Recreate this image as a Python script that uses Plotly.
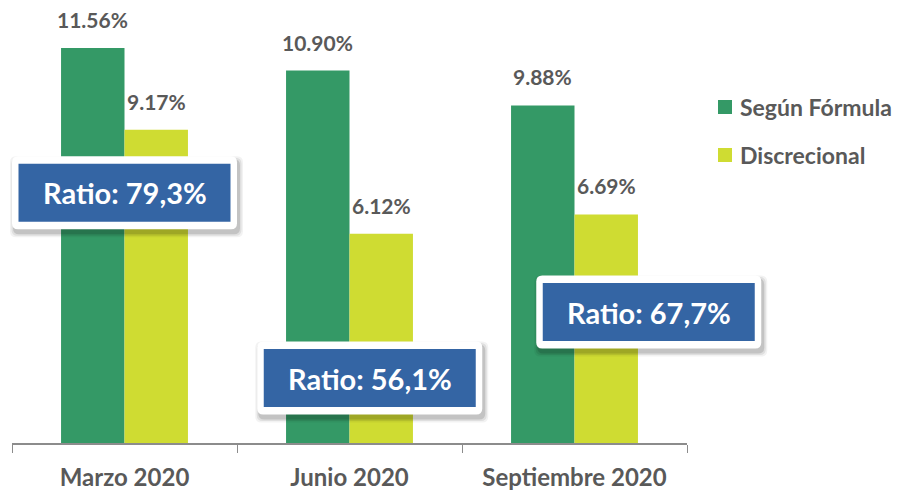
import plotly.graph_objects as go

categories = ["Marzo 2020", "Junio 2020", "Septiembre 2020"]
formula = [11.56, 10.90, 9.88]
discrecional = [9.17, 6.12, 6.69]
series_names = ["Según Fórmula", "Discrecional"]
ratio_labels = ["Ratio: 79,3%", "Ratio: 56,1%", "Ratio: 67,7%"]
# ratio box anchor positions (category index, value)
ratio_x = [0.0, 1.09, 2.33]
ratio_y = [7.32, 1.90, 3.83]

GREEN = "#349966"
YELLOW = "#CFDC32"
BLUE = "#3465A4"
GREY = "#595959"
FONT = "Lato"
YMAX = 12.73

fig = go.Figure()
fig.add_trace(go.Bar(name=series_names[0], x=categories, y=formula,
                     marker=dict(color=GREEN, line=dict(width=0)), showlegend=False))
fig.add_trace(go.Bar(name=series_names[1], x=categories, y=discrecional,
                     marker=dict(color=YELLOW, line=dict(width=0)), showlegend=False))

bw = 0.282
for i, v in enumerate(formula):
    fig.add_annotation(x=i - bw / 2, y=v, text=f"{v:.2f}%", showarrow=False,
                       yanchor="bottom", yshift=14,
                       font=dict(family=FONT, size=21, color=GREY, weight="bold"))
for i, v in enumerate(discrecional):
    fig.add_annotation(x=i + bw / 2, y=v, text=f"{v:.2f}%", showarrow=False,
                       yanchor="bottom", yshift=14,
                       font=dict(family=FONT, size=21, color=GREY, weight="bold"))

shapes = []
def rounded(w, h, r, dx=0, dy=0):
    x0, x1 = -w / 2 + dx, w / 2 + dx
    y0, y1 = -h / 2 + dy, h / 2 + dy
    return (f"M {x0+r},{y0} L {x1-r},{y0} Q {x1},{y0} {x1},{y0+r} "
            f"L {x1},{y1-r} Q {x1},{y1} {x1-r},{y1} L {x0+r},{y1} "
            f"Q {x0},{y1} {x0},{y1-r} L {x0},{y0+r} Q {x0},{y0} {x0+r},{y0} Z")

for xc, yc, lab in zip(ratio_x, ratio_y, ratio_labels):
    px = (xc + 0.5) / len(categories)
    py = yc / YMAX
    common = dict(xref="paper", yref="paper", xsizemode="pixel", ysizemode="pixel",
                  xanchor=px, yanchor=py, layer="above")
    for k, op in [(8, 0.05), (5, 0.08), (2, 0.12)]:
        shapes.append(dict(type="path", path=rounded(225 + k, 73 + k, 6, 2, -4),
                           fillcolor=f"rgba(0,0,0,{op})", line=dict(width=0), **common))
    shapes.append(dict(type="path", path=rounded(225, 73, 6),
                       fillcolor="white", line=dict(width=0), **common))
    shapes.append(dict(type="rect", x0=-106, x1=106, y0=-29, y1=29,
                       fillcolor=BLUE, line=dict(width=0), **common))
    fig.add_annotation(xref="paper", yref="paper", x=px, y=py, text=lab, showarrow=False,
                       xanchor="center", yanchor="middle",
                       font=dict(family=FONT, size=29, color="white", weight="bold"))

# manual legend (paper coordinates)
leg_y = [0.7724, 0.6621]
for name, col, ly in zip(series_names, [GREEN, YELLOW], leg_y):
    shapes.append(dict(type="rect", xref="paper", yref="paper",
                       x0=1.0459, x1=1.0667, y0=ly - 0.0161, y1=ly + 0.0161,
                       fillcolor=col, line=dict(width=0)))
    fig.add_annotation(xref="paper", yref="paper", x=1.0756, y=ly, text=name,
                       showarrow=False, xanchor="left", yanchor="middle",
                       font=dict(family=FONT, size=23, color=GREY, weight="bold"))

fig.update_layout(
    shapes=shapes,
    width=895, height=483,
    margin=dict(l=4, r=216, t=0, b=48),
    paper_bgcolor="white", plot_bgcolor="white",
    barmode="group", bargap=0.436, bargroupgap=0,
    showlegend=False,
    xaxis=dict(type="category", range=[-0.5, 2.5], autorange=False,
               tickson="boundaries", ticks="outside", ticklen=8,
               tickcolor="#8c8c8c", showline=True, linecolor="#8c8c8c", linewidth=1.5,
               tickfont=dict(family=FONT, size=24, color=GREY, weight="bold"),
               ticklabelstandoff=12,
               showgrid=False, zeroline=False, automargin=False),
    yaxis=dict(range=[0, YMAX], autorange=False, visible=False,
               showgrid=False, zeroline=False),
)

fig.write_html("out.html")
